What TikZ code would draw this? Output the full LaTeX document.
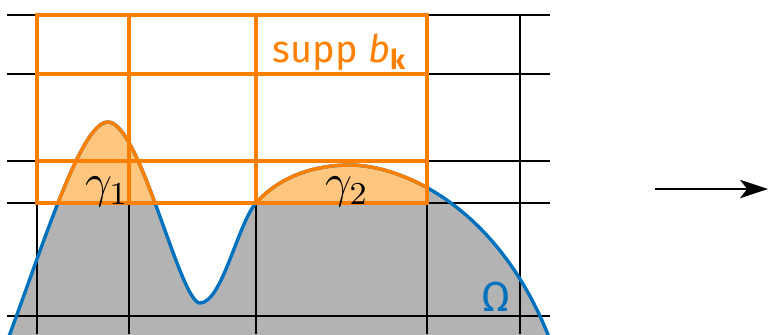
\documentclass[tikz,border=0pt]{standalone}
\usepackage{fontspec}
\setmainfont{Fira Sans}
\usetikzlibrary{arrows.meta}
\definecolor{omblue}{RGB}{0,114,189}
\definecolor{suporange}{RGB}{255,128,0}
\definecolor{fillorange}{RGB}{255,198,128}
\definecolor{omgray}{RGB}{179,179,179}
\newcommand\OmegaCurve{(2,355) .. controls (42,250) and (80,122) .. (108,122)
  .. controls (140,122) and (180,303) .. (200,303)
  .. controls (222,303) and (238,223) .. (256,203)
  .. controls (280,176) and (315,165) .. (350,165)
  .. controls (400,165) and (500,205) .. (552,345)}
\tikzset{
  gridline/.style={black, line width=0.4pt},
  orangegrid/.style={suporange, line width=0.85pt, line join=miter},
  omcurve/.style={line width=0.85pt},
  gamlabel/.style={anchor=base, inner sep=0pt, font=\fontsize{12}{14}\selectfont},
}
\begin{document}
\begin{tikzpicture}[x=0.25pt, y=-0.25pt]
\useasboundingbox (0,0) rectangle (768,334);
% gray region below boundary
\begin{scope}
  \clip (0,0) rectangle (768,334);
  \fill[omgray] \OmegaCurve -- (2,355) -- cycle;
\end{scope}
% orange caps
\begin{scope}
  \clip (37,0) rectangle (427,203);
  \fill[fillorange] \OmegaCurve -- (2,355) -- cycle;
\end{scope}
% black grid
\foreach \yy in {15,74,161,203,316} \draw[gridline] (7,\yy) -- (550,\yy);
\foreach \xx in {37,129,256,427,520} \draw[gridline] (\xx,15) -- (\xx,334);
% boundary curve
\begin{scope}
  \clip (0,0) rectangle (768,334);
  \draw[omcurve, omblue] \OmegaCurve;
\end{scope}
\begin{scope}
  \clip (37,0) rectangle (427,203);
  \draw[omcurve, suporange] \OmegaCurve;
\end{scope}
% orange support grid
\draw[orangegrid] (37,15) rectangle (427,203);
\draw[orangegrid] (37,74) -- (427,74);
\draw[orangegrid] (37,161) -- (427,161);
\draw[orangegrid] (129,15) -- (129,203);
\draw[orangegrid] (256,15) -- (256,203);
% labels
\node[anchor=base, inner sep=0pt, text=suporange, font=\fontsize{9.5}{11}\selectfont] (supp) at (339,62) {supp \textit{b}\raisebox{-0.35ex}{\fontsize{6.8}{8}\selectfont\bfseries k}};
\node[gamlabel] (g1) at (107,197) {$\gamma_1$};
\node[gamlabel] (g2) at (347,197) {$\gamma_2$};
\node[anchor=base, inner sep=0pt, text=omblue, font=\fontsize{10.5}{13}\selectfont] (om) at (496,311) {Ω};
% arrow
\coordinate (aS) at (655,189);
\coordinate (aE) at (768,189);
\draw[line width=0.4pt, -{Stealth[length=7pt,width=4.6pt,inset=1.8pt]}] (aS) -- (aE);
\end{tikzpicture}
\end{document}
